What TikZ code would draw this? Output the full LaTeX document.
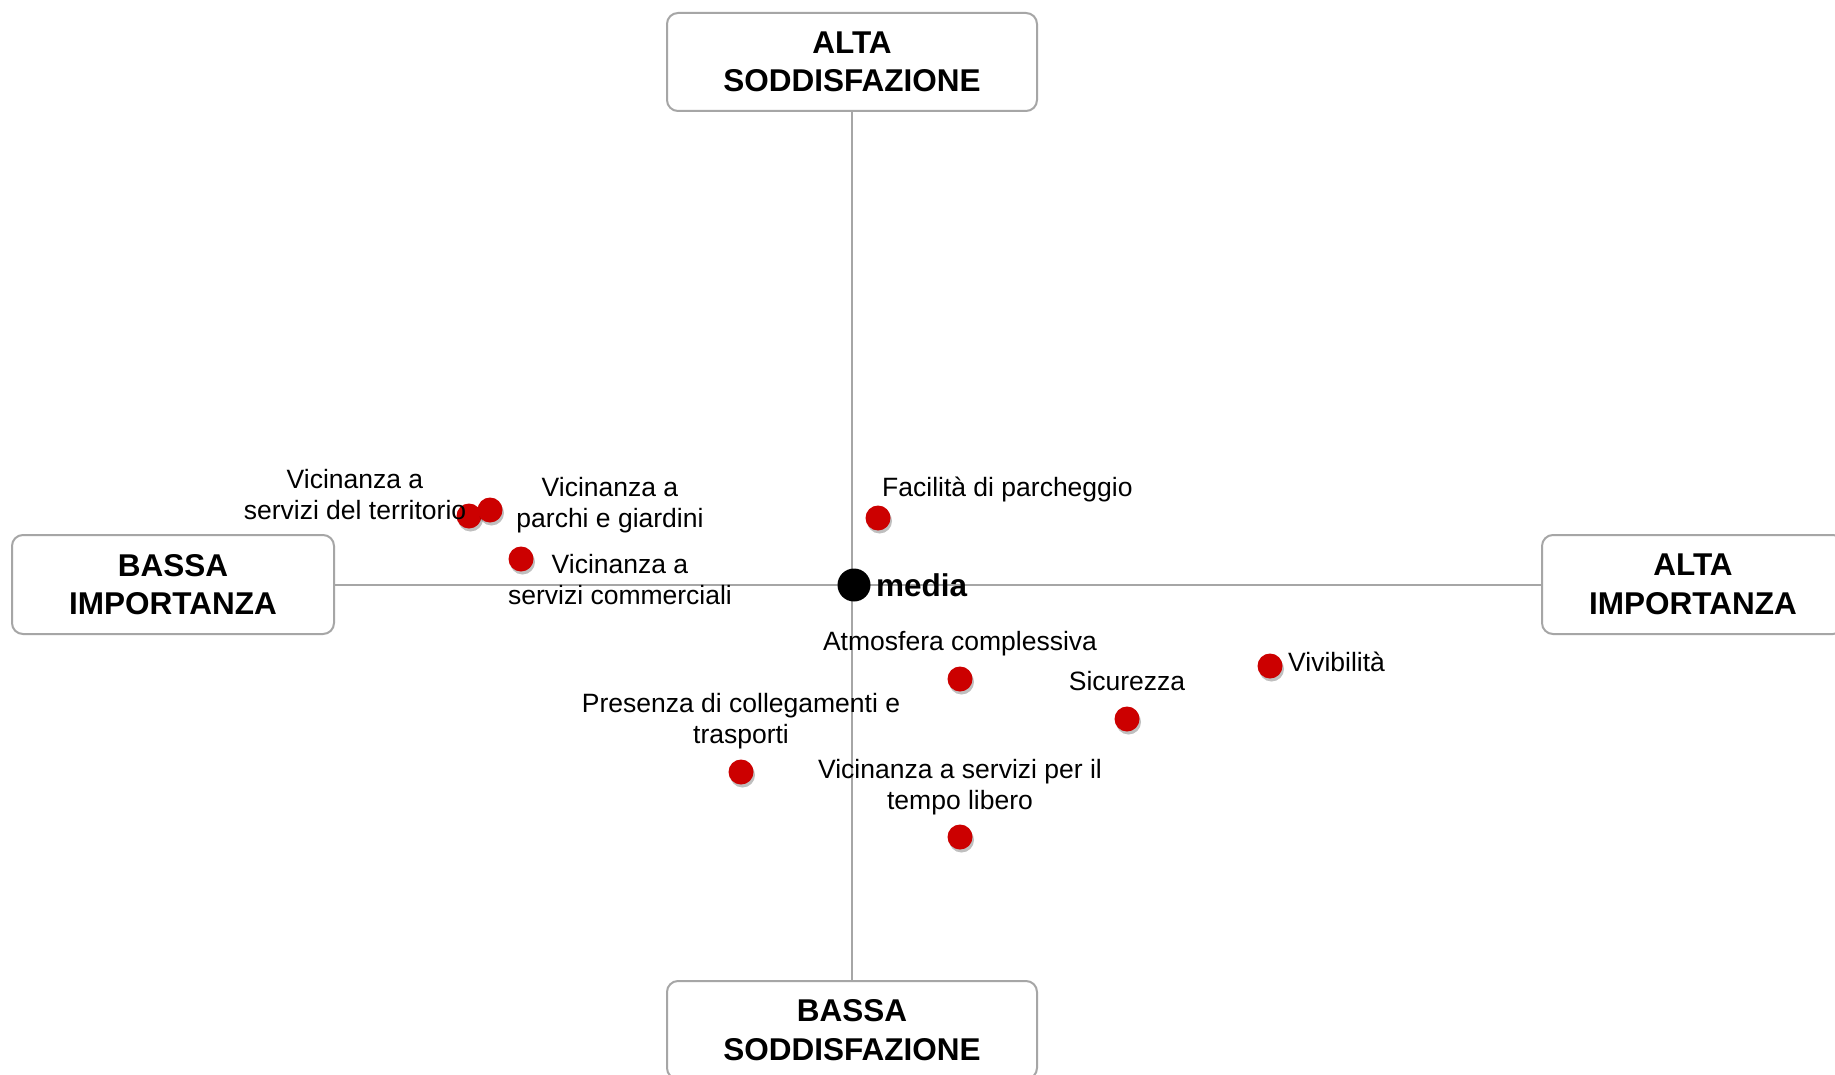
\documentclass[tikz,border=0pt]{standalone}
\usepackage{fontspec}
\setmainfont{Liberation Sans}
\usetikzlibrary{shadows}
\definecolor{axisgray}{HTML}{A6A6A6}
\definecolor{dotred}{HTML}{CC0000}
\tikzset{
  quadbox/.style={draw=axisgray, line width=2pt, rounded corners=11pt, fill=white,
    align=center, inner sep=0pt, font=\fontsize{31.5}{38.5}\selectfont\bfseries},
  axisline/.style={draw=axisgray, line width=2pt},
  rdot/.style={circle, fill=dotred, inner sep=0pt, minimum size=25pt,
    drop shadow={shadow xshift=1.5pt, shadow yshift=-3pt, opacity=0.25, fill=black}},
  lbl/.style={align=center, inner sep=0pt, font=\fontsize{26.5}{31}\selectfont},
  meandot/.style={circle, fill=black, inner sep=0pt, minimum size=33pt}
}
\begin{document}
\begin{tikzpicture}[x=1pt, y=-1pt]
\fill[white] (0,0) rectangle (1835,1075);
\useasboundingbox (0,0) rectangle (1835,1075);

\node[quadbox, minimum width=370pt, minimum height=98pt] (top) at (852,62) {ALTA\\SODDISFAZIONE};
\node[quadbox, minimum width=370pt, minimum height=98pt] (bottom) at (852,1030) {BASSA\\SODDISFAZIONE};
\node[quadbox, minimum width=322pt, minimum height=99pt] (left) at (173,584.5) {BASSA\\IMPORTANZA};
\node[quadbox, minimum width=302pt, minimum height=99pt] (right) at (1693,584.5) {ALTA\\IMPORTANZA};

\draw[axisline] (left.east) -- (right.west);
\draw[axisline] (top.south) -- (bottom.north);

\node[meandot] (media) at (854,585) {};
\node[lbl, anchor=west, font=\fontsize{31.5}{37}\selectfont\bfseries] (medialbl) at (876,585) {media};

% dots
\node[rdot] (d1) at (469,516) {};
\node[rdot] (d2) at (490,510) {};
\node[rdot] (d3) at (521,559) {};
\node[rdot] (d4) at (878,518) {};
\node[rdot] (d5) at (960,679) {};
\node[rdot] (d6) at (1127,719) {};
\node[rdot] (d7) at (1270,666) {};
\node[rdot] (d8) at (741,772) {};
\node[rdot] (d9) at (960,837) {};

% labels
\node[lbl] (l1) at (355,495) {Vicinanza a\\servizi del territorio};
\node[lbl] (l2) at (610,505) {Vicinanza a\\parchi e giardini};
\node[lbl] (l3) at (620,580) {Vicinanza a\\servizi commerciali};
\node[lbl, anchor=west] (l4) at (882,489) {Facilità di parcheggio};
\node[lbl] (l5) at (960,643.5) {Atmosfera complessiva};
\node[lbl] (l6) at (1127,681) {Sicurezza};
\node[lbl, anchor=west] (l7) at (1288,662) {Vivibilità};
\node[lbl] (l8) at (741,721.5) {Presenza di collegamenti e\\trasporti};
\node[lbl] (l9) at (960,787.5) {Vicinanza a servizi per il\\tempo libero};
\end{tikzpicture}
\end{document}
